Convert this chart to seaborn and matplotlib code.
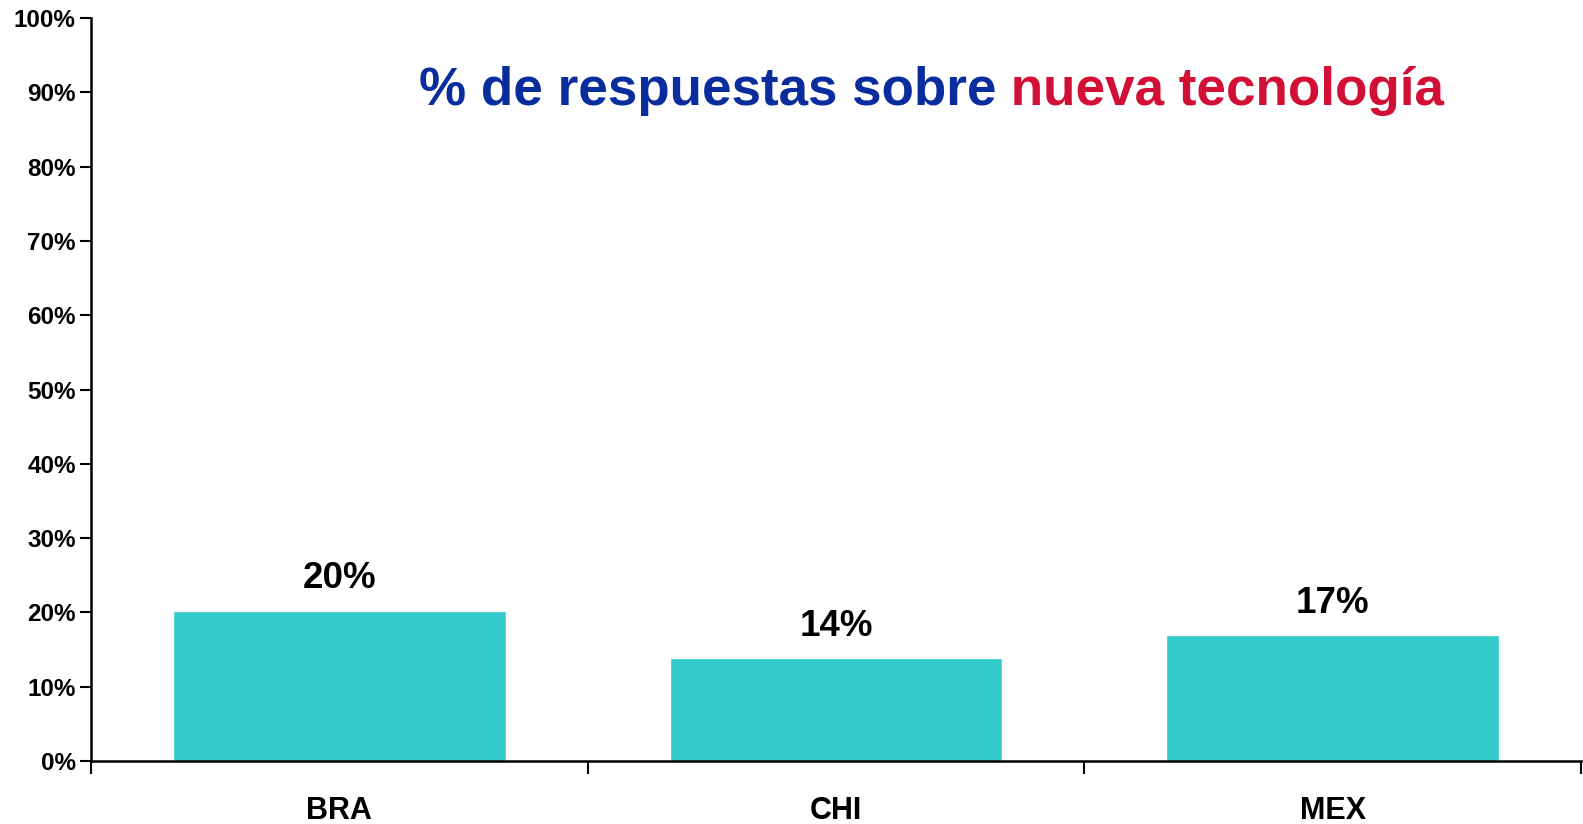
import pandas as pd
import numpy as np
import seaborn as sns
import matplotlib.pyplot as plt
from matplotlib.ticker import FixedLocator, PercentFormatter

# Data
paises = ["BRA", "CHI", "MEX"]
respuestas = [0.202, 0.138, 0.169]
etiquetas = ["20%", "14%", "17%"]
y_ticks = [0.0, 0.1, 0.2, 0.3, 0.4, 0.5, 0.6, 0.7, 0.8, 0.9, 1.0]

df = pd.DataFrame({"pais": paises, "valor": respuestas})

sns.set_style("white")
plt.rcParams['font.family'] = ['Liberation Sans', 'DejaVu Sans']

fig = plt.figure(figsize=(15.83, 8.24), dpi=100)
ax = fig.add_axes([0.0575, 0.0765, 0.9412, 0.9015])

sns.barplot(data=df, x="pais", y="valor", color="#33CCCC", width=0.67,
            saturation=1, ax=ax)

# value labels
for i, (v, lab) in enumerate(zip(respuestas, etiquetas)):
    ax.text(i, v + 0.02, lab, ha="center", va="bottom",
            fontsize=26.5, fontweight="bold", color="black")

ax.set_xlim(-0.5, 2.5)
ax.set_ylim(0, 1.0)
ax.set_yticks(y_ticks)
ax.yaxis.set_major_formatter(PercentFormatter(1.0, decimals=0))
ax.set_xlabel("")
ax.set_ylabel("")

for s in ["top", "right"]:
    ax.spines[s].set_visible(False)
for s in ["left", "bottom"]:
    ax.spines[s].set_color("black")
    ax.spines[s].set_linewidth(1.8)

ax.tick_params(axis="y", direction="out", length=8, width=1.5,
               labelsize=17.5, left=True, pad=3, colors="black")
ax.tick_params(axis="x", which="major", length=0, labelsize=22, pad=25,
               labelcolor="black")
ax.xaxis.set_minor_locator(FixedLocator([-0.5, 0.5, 1.5, 2.5]))
ax.tick_params(axis="x", which="minor", direction="out", length=9,
               width=1.5, bottom=True, color="black")
for lbl in ax.get_yticklabels() + ax.get_xticklabels():
    lbl.set_fontweight("bold")

# two-colour title
t1 = fig.text(0.2645, 0.872, "% de respuestas sobre", fontsize=38.2,
              fontweight="bold", color="#0A2D9E", ha="left", va="baseline")
ax.annotate(" nueva tecnología", xy=(1, 0), xycoords=t1, fontsize=38.2,
            fontweight="bold", color="#D20F35", ha="left", va="bottom",
            annotation_clip=False)

fig.savefig("out.png", dpi=100)
